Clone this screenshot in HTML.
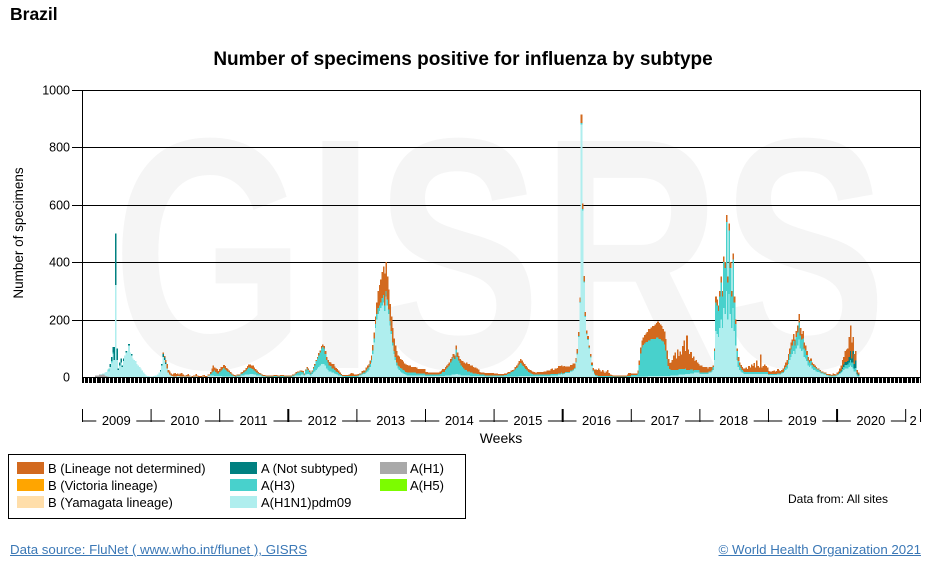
<!DOCTYPE html>
<html><head><meta charset="utf-8">
<style>
body{margin:0;background:#fff;font-family:"Liberation Sans",Arial,sans-serif;}
#wrap{position:relative;width:936px;height:571px;overflow:hidden;}
a{color:#3b78b6;}
</style></head>
<body>
<div id="wrap">
<svg id="chart" width="936" height="571" xmlns="http://www.w3.org/2000/svg" style="position:absolute;left:0;top:0;font-family:'Liberation Sans',Arial,sans-serif">
  <g id="watermark">
    <text x="112" y="368" font-size="330" font-weight="bold" fill="#f5f5f5" textLength="775" lengthAdjust="spacingAndGlyphs">GISRS</text>
  </g>
  <text x="10" y="20" font-size="17.5" font-weight="bold" fill="#000">Brazil</text>
  <text x="463" y="65" font-size="19" font-weight="bold" text-anchor="middle" fill="#000">Number of specimens positive for influenza by subtype</text>
  <text transform="translate(23,233) rotate(-90)" font-size="13.5" text-anchor="middle" fill="#000">Number of specimens</text>
  <text x="501" y="443" font-size="14" text-anchor="middle" fill="#000">Weeks</text>
  <g id="grid"></g>
  <g id="bars" shape-rendering="crispEdges"></g>
  <g id="axes"></g>
  <g id="legend">
    <rect x="8.5" y="454.5" width="457" height="64" fill="none" stroke="#000"/>
    <g><rect x="17" y="462" width="27" height="12" fill="#d2691e"/><text x="48" y="473" font-size="13">B (Lineage not determined)</text></g>
    <g><rect x="17" y="479" width="27" height="12" fill="#ffa500"/><text x="48" y="490" font-size="13">B (Victoria lineage)</text></g>
    <g><rect x="17" y="496" width="27" height="12" fill="#ffdeaa"/><text x="48" y="507" font-size="13">B (Yamagata lineage)</text></g>
    <g><rect x="230" y="462" width="27" height="12" fill="#008080"/><text x="261" y="473" font-size="13">A (Not subtyped)</text></g>
    <g><rect x="230" y="479" width="27" height="12" fill="#48d1cc"/><text x="261" y="490" font-size="13">A(H3)</text></g>
    <g><rect x="230" y="496" width="27" height="12" fill="#afeeee"/><text x="261" y="507" font-size="13">A(H1N1)pdm09</text></g>
    <g><rect x="380" y="462" width="27" height="12" fill="#a9a9a9"/><text x="410" y="473" font-size="13">A(H1)</text></g>
    <g><rect x="380" y="479" width="27" height="12" fill="#7cfc00"/><text x="410" y="490" font-size="13">A(H5)</text></g>
  </g>
  <text x="788" y="503" font-size="12" fill="#000">Data from: All sites</text>
</svg>
<a href="#" style="position:absolute;left:10px;top:542px;font-size:13.3px">Data source: FluNet ( www.who.int/flunet ), GISRS</a>
<a href="#" style="position:absolute;right:15px;top:542px;font-size:13.3px">© World Health Organization 2021</a>
</div>
<script>
const years = ["2009","2010","2011","2012","2013","2014","2015","2016","2017","2018","2019","2020","2"];
const yTicks = [0,200,400,600,800,1000];
const h1 = [
0,0,0,0,0,0,0,0,0,0,5,5,6, 8,8,10,8,5,3,2,0,0,0,0,0,0, 0,0,0,0,0,0,0,0,0,0,0,0,0, 0,0,0,0,0,0,0,0,0,0,0,0,0
];
const pdm = [
// 2009
0,0,0,0,0,0,0,0,0,0,0,0,0, 0,2,3,5,10,15,25,20,35,50,80,60,320, 60,25,40,50,35,55,75,85,90,110,85,75,65, 60,55,45,40,35,30,22,15,10,6,4,3,2,
// 2010
2,2,3,5,5,8,15,20,40,70,60,45,30, 15,8,5,3,2,2,2,3,3,2,2,2,2, 2,2,2,2,2,2,2,2,2,2,2,2,2, 2,2,2,3,5,5,5,5,5,3,3,3,3,
// 2011
3,3,2,2,2,2,2,2,2,2,2,2,2, 3,3,3,5,5,5,8,8,8,8,10,10,10, 8,8,6,5,5,5,3,3,3,2,2,2,2, 2,2,2,2,2,2,2,2,2,2,2,2,2,
// 2012
2,2,2,3,3,5,5,5,5,5,8,8,5, 8,10,10,8,5,10,15,20,25,30,35,40,45, 45,45,40,30,25,20,20,15,15,12,10,8,6, 5,4,3,3,2,2,2,2,2,2,2,2,2,
// 2013
2,3,5,5,8,10,10,15,20,25,35,50,80, 120,170,200,220,230,240,250,260,230,280,250,220,180, 150,110,80,60,40,30,25,20,15,12,10,8,6, 5,5,5,5,5,5,5,5,5,5,5,5,5,
// 2014
3,3,3,3,3,3,3,3,3,3,3,3,3, 3,3,5,5,5,5,5,8,8,8,10,10,8, 8,5,5,5,5,5,5,5,3,3,3,3,3, 3,3,3,3,3,3,3,3,3,3,3,3,3,
// 2015
2,2,2,2,2,2,2,2,2,2,2,2,2, 2,2,2,2,2,2,3,3,3,3,3,3,3, 3,3,3,3,3,3,3,3,3,3,3,3,3, 3,3,3,3,5,5,5,5,5,5,8,8,10,
// 2016
10,12,15,15,15,15,20,20,25,30,50,80,140, 260,880,580,330,210,150,130,100,70,40,20,10,5, 3,2,2,2,2,2,2,2,2,2,2,2,2, 2,2,2,2,2,2,2,2,2,2,2,2,2,
// 2017
2,2,2,2,2,2,2,2,2,2,2,2,2, 3,3,3,3,3,3,3,3,3,3,3,3,3, 3,3,3,3,5,5,5,5,5,5,8,8,8, 8,8,10,10,10,10,12,12,12,15,15,15,15,
// 2018
10,10,10,10,10,10,10,15,15,20,25,60,160, 150,140,170,200,170,240,220,300,200,290,220,170,240, 160,110,60,35,25,20,15,12,10,10,10,10,10, 10,10,10,10,10,10,10,10,10,10,10,10,10,
// 2019
8,8,8,8,8,8,8,10,10,10,12,15,20, 25,30,45,60,70,80,90,80,100,110,130,100,90, 95,70,65,55,40,35,40,30,25,25,20,18,18, 15,12,12,8,8,5,5,3,3,3,3,3,3,
// 2020
5,8,10,15,20,25,30,30,30,35,40,35,30, 20,20,5,3,0,0,0,0,0,0,0,0,0, 0,0,0,0,0,0,0,0,0,0,0,0,0, 0,0,0,0,0,0,0,0,0,0,0,0,0,
// 2021
0,0,0,0,0,0,0,0,0,0,0,0
];
const h3 = [
// 2009
0,0,0,0,0,0,0,0,0,0,0,0,0, 0,0,0,0,0,0,0,10,0,5,5,0,0, 0,0,0,0,0,0,0,0,0,0,0,0,0, 0,0,0,0,0,0,0,0,0,0,0,0,0,
// 2010
0,0,0,0,0,0,0,0,0,0,0,0,0, 0,0,0,0,0,0,0,0,0,0,0,0,0, 0,0,0,0,0,0,0,0,0,0,0,0,0, 0,0,0,0,0,0,5,10,15,20,15,10,10,
// 2011
15,20,25,30,25,20,18,15,10,8,5,3,2, 2,2,2,5,8,10,12,15,20,25,22,20,18, 15,12,10,8,6,5,3,2,2,2,2,2,2, 2,2,2,2,2,2,2,2,2,2,2,2,2,
// 2012
2,2,2,3,3,5,8,10,12,15,10,8,5, 15,20,15,10,8,10,15,20,30,35,40,45,55, 60,55,40,30,25,20,18,15,15,12,10,10,8, 5,3,2,2,2,2,2,2,2,2,2,2,2,
// 2013
2,2,3,3,5,5,5,8,10,10,10,10,12, 15,15,20,20,20,20,25,25,20,20,20,15,15, 10,10,10,10,10,10,12,12,15,12,12,10,10, 10,10,10,10,10,10,8,8,8,8,8,8,8,
// 2014
5,5,5,5,5,5,5,5,5,5,5,8,10, 15,15,20,25,30,35,45,50,60,55,85,60,50, 40,35,30,25,20,20,15,15,12,12,10,10,10, 8,8,5,5,5,5,3,3,3,3,3,3,3,
// 2015
3,3,3,3,3,3,3,3,5,5,8,10,10, 15,18,20,25,30,35,40,45,40,35,30,25,20, 15,12,10,8,6,5,5,5,5,5,5,5,5, 5,5,5,5,5,5,5,5,5,5,5,5,5,
// 2016
2,2,2,2,2,2,2,2,2,2,2,2,2, 2,5,5,2,2,2,2,2,2,2,2,2,2, 2,2,2,2,2,2,2,2,2,2,2,2,2, 2,2,2,2,2,2,2,2,2,2,2,2,2,
// 2017
5,5,5,5,5,10,40,80,100,110,115,120,120, 125,125,130,130,130,130,135,135,130,130,125,120,110, 90,60,35,25,20,20,20,20,20,20,20,20,20, 20,20,20,15,15,15,15,15,10,10,10,10,10,
// 2018
5,5,5,5,5,5,5,5,5,5,10,30,100, 100,90,110,130,110,160,160,240,130,220,160,110,170, 100,75,30,20,15,12,10,8,8,8,8,8,8, 8,8,8,8,8,8,8,8,8,8,8,8,8,
// 2019
3,3,3,3,3,3,3,3,3,3,3,3,8, 10,12,15,20,25,30,35,30,40,45,60,45,40, 40,30,28,22,18,15,15,12,12,10,10,8,8, 6,5,5,4,4,3,3,2,2,2,2,2,2,
// 2020
3,3,5,5,8,10,12,12,13,15,20,15,20, 10,12,5,3,0,0,0,0,0,0,0,0,0, 0,0,0,0,0,0,0,0,0,0,0,0,0, 0,0,0,0,0,0,0,0,0,0,0,0,0,
// 2021
0,0,0,0,0,0,0,0,0,0,0,0
];
const ans = [
// 2009
0,0,0,0,0,0,0,0,0,0,0,0,0, 0,0,0,0,0,0,0,0,10,15,20,45,180, 40,5,10,15,5,10,0,5,0,5,0,5,0, 0,0,0,0,0,0,0,0,0,0,0,0,0,
// 2010
0,0,0,0,0,0,0,5,5,10,8,5,0
];
const bB = [
// 2009
0,0,0,0,0,0,0,0,0,0,0,0,0, 0,0,0,0,0,0,0,0,0,0,0,0,0, 0,0,0,0,0,0,0,0,0,0,0,0,0, 0,0,0,0,0,0,0,0,0,0,0,0,0,
// 2010
0,0,0,0,0,0,0,0,0,5,5,10,15, 10,12,8,5,10,12,8,10,5,10,12,6,3, 3,5,8,4,0,2,3,4,8,3,2,1,2, 3,5,2,1,3,3,8,15,20,10,12,15,8,
// 2011
10,12,8,10,12,10,8,5,5,3,2,2,2, 3,3,3,5,5,8,5,8,10,10,12,10,12, 10,8,6,5,3,3,2,2,2,2,2,2,2, 2,2,3,3,3,2,2,3,3,3,2,2,2,
// 2012
2,2,2,2,2,3,5,5,3,3,5,5,3, 3,5,5,5,3,3,5,5,5,5,8,8,8, 8,8,10,10,10,12,12,15,15,12,12,10,8, 5,3,2,2,3,3,3,5,8,10,8,5,5,
// 2013
5,5,5,5,8,8,8,10,10,10,12,15,20, 20,25,40,60,70,80,90,100,110,100,80,70,60, 50,50,45,40,40,35,35,30,30,30,25,25,25, 25,25,20,20,20,20,20,15,15,15,15,15,15,
// 2014
10,10,8,8,8,8,8,8,8,8,8,8,10, 10,10,10,10,10,10,12,12,12,12,15,15,15, 15,18,20,20,22,25,25,25,25,25,22,20,20, 18,15,10,8,8,8,8,8,8,8,8,8,8,
// 2015
8,8,8,5,5,5,5,5,5,5,5,5,5, 5,5,5,8,8,10,12,15,15,12,12,10,10, 10,10,10,8,8,8,8,10,10,10,10,10,12, 12,15,15,15,18,20,15,20,20,22,25,25,25,
// 2016
25,25,20,20,20,20,20,20,20,15,15,15,15, 15,30,20,20,15,10,10,8,8,8,10,15,20, 20,25,20,15,20,15,10,15,20,10,5,3,2, 2,2,2,2,2,2,2,2,2,2,5,10,10,
// 2017
5,5,5,5,5,10,15,20,25,25,30,30,35, 40,40,40,45,45,50,50,55,55,50,50,45,45, 40,30,25,20,25,35,50,60,40,70,45,60,50, 80,100,60,120,70,55,60,40,50,30,35,25,20,
// 2018
25,25,20,20,20,20,15,15,15,10,5,10,20, 20,20,20,20,20,20,20,25,20,25,20,20,20, 20,15,10,15,10,10,10,10,12,15,10,20,15, 25,20,30,15,40,20,15,60,15,20,25,20,15,
// 2019
10,8,8,10,12,8,10,15,10,8,10,12,12, 15,18,20,20,25,20,25,20,20,25,30,25,20, 25,20,17,13,12,10,10,8,8,5,5,4,4, 4,3,3,3,3,2,2,5,3,2,8,5,3,
// 2020
7,9,13,17,27,27,38,43,45,70,90,55,50, 35,33,10,7,0,0,0,0,0,0,0,0,0, 0,0,0,0,0,0,0,0,0,0,0,0,0, 0,0,0,0,0,0,0,0,0,0,0,0,0,
// 2021
0,0,0,0,0,0,0,0,0,0,0,0
];
const ansTail = [
// 2020 weeks 0-16 (A not subtyped)
0,0,2,3,5,8,10,10,12,20,30,15,40,15,25,5,2
];
const ansTailStart = 572;

const X0 = 82, X1 = 921, Y0 = 377, Y1 = 90, YMAX = 1000;
const NW = pdm.length;
const BW = (X1 - X0) / NW;
const xScale = i => X0 + i * BW;
const yScale = v => Y0 - (v / YMAX) * (Y0 - Y1);
const NS = "http://www.w3.org/2000/svg";
function mk(tag, attrs, parent){const e=document.createElementNS(NS,tag);for(const k in attrs)e.setAttribute(k,attrs[k]);parent.appendChild(e);return e;}
function val(arr,i){return arr[i]||0;}
function ansVal(i){let v=val(ans,i); if(i>=ansTailStart&&i<ansTailStart+ansTail.length) v+=ansTail[i-ansTailStart]; return v;}

const grid=document.getElementById('grid'), axes=document.getElementById('axes'), bars=document.getElementById('bars');
yTicks.forEach(t=>{
  const y=Math.round(yScale(t))+0.5;
  if(t>0){const l=mk('line',{x1:72,x2:X1,y1:y,y2:y,stroke:'#000','stroke-width':1},grid);
    
    }
  const tx=mk('text',{x:70,y:y+4,'font-size':12.5,'text-anchor':'end',fill:'#000'},axes);
  tx.textContent=t;
  
  
});
const series=[['h1',h1,'#a9a9a9'],['pdm',pdm,'#afeeee'],['h3',h3,'#48d1cc'],['ans',null,'#008080'],['b',bB,'#d2691e']];
for(let i=0;i<NW;i++){
  let base=0;
  series.forEach(s=>{
    const v = s[1]? val(s[1],i) : ansVal(i);
    if(v<=0) return;
    const yTop=yScale(base+v), yBot=yScale(base);
    const r=mk('rect',{x:xScale(i),y:yTop,width:BW+0.3,height:Math.max(yBot-yTop,1),fill:s[2]},bars);
    
    
    base+=v;
  });
}
const frame=mk('rect',{x:X0+0.5,y:Y1+0.5,width:X1-X0-1,height:Y0-Y1,fill:'none',stroke:'#000','stroke-width':1},axes);


const ticksG=mk('g',{'shape-rendering':'crispEdges'},axes);
for(let i=0;i<NW;i++){
  const t=mk('rect',{x:Math.round(xScale(i)),y:Y0,width:1,height:6,fill:'#000'},ticksG);
  
  
}
mk('rect',{x:X0,y:Y0,width:X1-X0,height:1,fill:'#000'},ticksG);
const yearW=52*BW, YA=421;
years.forEach((yr,k)=>{
  const xs=X0+k*yearW, xe=Math.min(X0+(k+1)*yearW, X1);
  const tk=mk('line',{x1:xs+0.5,x2:xs+0.5,y1:409,y2:YA+1,stroke:'#000','stroke-width':k%4===3?2:1},axes);
  
  
  const cx=(xs+xe)/2, half=yr.length*4+4;
  mk('line',{x1:xs,x2:cx-half,y1:YA,y2:YA,stroke:'#000'},axes);
  mk('line',{x1:cx+half,x2:xe,y1:YA,y2:YA,stroke:'#000'},axes);
  const tx=mk('text',{x:cx,y:YA+4,'font-size':13,'text-anchor':'middle',fill:'#000'},axes);
  tx.textContent=yr;
  
  
});
mk('line',{x1:X1-0.5,x2:X1-0.5,y1:409,y2:YA+1,stroke:'#000'},axes);
</script>
</body></html>
